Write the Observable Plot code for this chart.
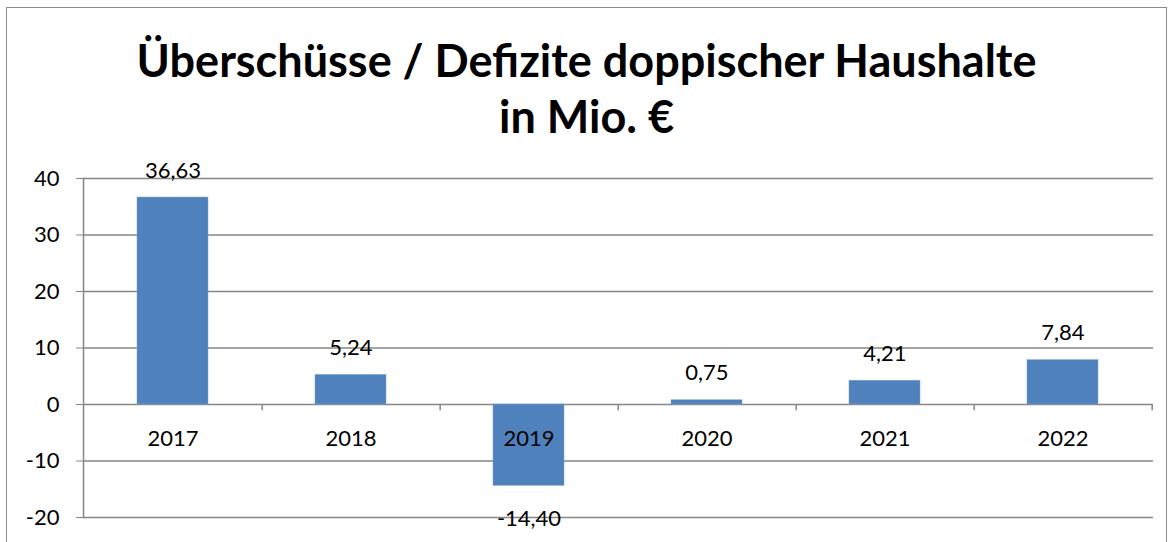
<!DOCTYPE html>
<html>
<head>
<meta charset="utf-8">
<script src="https://cdn.jsdelivr.net/npm/d3@7"></script>
<script src="https://cdn.jsdelivr.net/npm/@observablehq/plot@0.6"></script>
<style>
  html, body { margin: 0; padding: 0; background: #fff; }
  #wrap { position: relative; width: 1173px; height: 542px; overflow: hidden; font-family: Lato, "Open Sans", sans-serif; }
  #border { position: absolute; left: 6px; top: 7px; width: 1161px; height: 600px; border: 1.5px solid #8c8c8c; box-sizing: border-box; }
  #title { position: absolute; left: 0; top: 32px; width: 1173px; text-align: center; font-weight: bold; font-size: 45px; line-height: 56px; color: #000; }
  #chart { position: absolute; left: 0; top: 0; width: 1173px; height: 542px; }
  #chart svg { max-width: none; }
</style>
</head>
<body>
<div id="wrap">
  <div id="border"></div>
  <div id="chart"></div>
  <div id="title">Überschüsse / Defizite doppischer Haushalte<br>in Mio. €</div>
</div>
<script>
const years = ["2017", "2018", "2019", "2020", "2021", "2022"];
const values = [36.63, 5.24, -14.40, 0.75, 4.21, 7.84];
const yTicks = [-20, -10, 0, 10, 20, 30, 40];

const data = years.map((y, i) => ({year: y, value: values[i]}));
const fmt = v => v.toFixed(2).replace(".", ",");

const W = 1173, H = 542;
const mL = 83, mR = 20, mT = 178, mB = 25;
const step = (W - mL - mR) / years.length;

const plot = Plot.plot({
  width: W,
  height: H,
  marginLeft: mL,
  marginRight: mR,
  marginTop: mT,
  marginBottom: mB,
  style: {fontFamily: "Lato, 'Open Sans', sans-serif", fontSize: "22px", color: "#000", background: "transparent", maxWidth: "none"},
  x: {domain: years, paddingInner: 0.6, paddingOuter: 0.3, axis: null},
  y: {domain: [-20, 40], axis: null},
  marks: [
    Plot.gridY(yTicks, {stroke: "#868686", strokeOpacity: 1, strokeWidth: 1.5}),
    Plot.frame({anchor: "left", stroke: "#868686", strokeWidth: 1.5}),
    Plot.axisY(yTicks, {label: null, tickSize: 7, tickPadding: 17, stroke: "#868686", fill: "#000", fontSize: 22, tickFormat: d => String(d)}),
    Plot.barY(data, {x: "year", y: "value", fill: "#4F81BD", stroke: "#7ea3d1", strokeWidth: 0.5}),
    Plot.ruleX(data, {x: "year", y1: 0, y2: -1.1, dx: step / 2, stroke: "#868686", strokeWidth: 1.5}),
    Plot.text(data, {x: "year", y: 0, text: "year", dy: 34, fontSize: 22, fill: "#000"}),
    Plot.text(data, {x: "year", y: "value", text: d => fmt(d.value), fontSize: 22, fill: "#000",
      filter: d => d.value >= 0, dy: -27}),
    Plot.text(data, {x: "year", y: "value", text: d => fmt(d.value), fontSize: 22, fill: "#000",
      filter: d => d.value < 0, dy: 33})
  ]
});
document.getElementById("chart").appendChild(plot);
</script>
</body>
</html>
